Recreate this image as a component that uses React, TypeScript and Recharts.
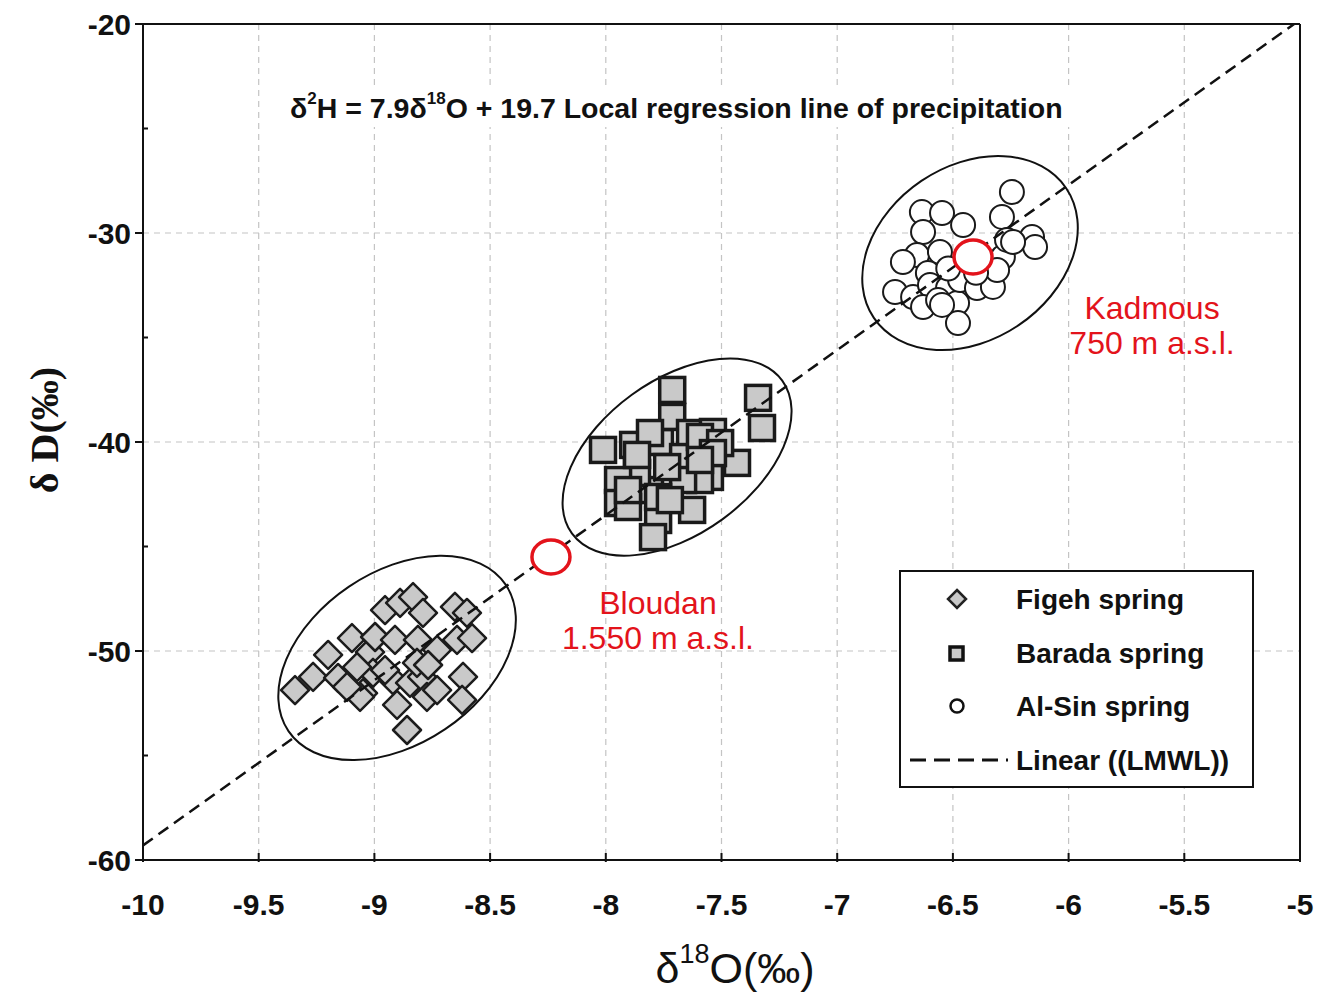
import React from 'react';
import { ScatterChart, Scatter, XAxis, YAxis, CartesianGrid, ReferenceLine, ReferenceDot } from 'recharts';

// Figeh spring (diamonds)
const figehX = [-9.343, -9.265, -9.2, -9.157, -9.097, -9.049, -9.019, -8.997, -8.954, -8.889, -8.833, -8.79, -8.911, -9.006, -8.92, -8.846, -8.794, -8.812, -8.729, -8.652, -8.6, -8.643, -8.578, -8.617, -8.621, -8.902, -8.859, -8.773, -8.729, -8.954, -9.075, -8.816, -9.062, -9.118, -8.768];
const figehY = [-51.87, -51.24, -50.19, -51.29, -49.38, -52.01, -50.05, -49.33, -48.04, -47.7, -47.42, -48.18, -49.47, -51.05, -51.39, -51.53, -51.24, -49.47, -49.95, -47.89, -48.18, -49.47, -49.38, -51.24, -52.34, -52.58, -53.78, -52.2, -51.87, -50.91, -50.77, -50.57, -52.2, -51.72, -50.67];

// Barada spring (squares)
const baradaX = [-8.012, -7.882, -7.766, -7.713, -7.713, -7.636, -7.537, -7.342, -7.325, -7.433, -7.55, -7.666, -7.593, -7.666, -7.809, -7.865, -7.947, -7.947, -7.904, -7.774, -7.796, -7.627, -7.735, -7.774, -7.593, -7.809, -7.506, -7.537, -7.865, -7.723, -7.904, -7.593];
const baradaY = [-40.38, -40.14, -40.0, -37.51, -38.8, -39.57, -39.52, -37.89, -39.33, -41.0, -41.67, -40.72, -41.82, -41.82, -42.3, -41.48, -41.82, -42.92, -43.11, -43.73, -44.55, -43.25, -41.2, -42.63, -39.76, -39.57, -40.05, -40.53, -40.62, -42.78, -42.3, -40.86];

// Al-Sin spring (circles)
const alsinX = [-6.245, -6.634, -6.547, -6.456, -6.288, -6.158, -6.145, -6.629, -6.655, -6.716, -6.556, -6.284, -6.266, -6.608, -6.75, -6.672, -6.599, -6.521, -6.482, -6.469, -6.396, -6.327, -6.309, -6.478, -6.629, -6.564, -6.24, -6.547, -6.4, -6.52];
const alsinY = [-28.04, -29.0, -29.04, -29.62, -29.23, -30.19, -30.67, -29.95, -31.05, -31.39, -30.91, -31.15, -30.33, -31.91, -32.82, -33.06, -32.49, -32.63, -33.35, -32.25, -32.63, -32.58, -31.77, -34.31, -33.54, -33.21, -30.43, -33.44, -31.9, -31.7];

// LMWL: d2H = 7.9 d18O + 19.7
const lmwlX = [-10, -5];
const lmwlY = [-59.3, -19.8];

// cluster ellipse centres
const clusterX = [-8.902, -7.692, -6.426];
const clusterY = [-50.33, -40.72, -30.96];

// precipitation stations
const stationNames = ['Bloudan', 'Kadmous'];
const stationAlt = ['1.550 m a.s.l.', '750 m a.s.l.'];
const stationX = [-8.237, -6.413];
const stationY = [-45.5, -31.15];

const xTicks = [-10, -9.5, -9, -8.5, -8, -7.5, -7, -6.5, -6, -5.5, -5];
const yTicks = [-60, -55, -50, -45, -40, -35, -30, -25, -20];
const yMajor = [-60, -50, -40, -30, -20];

const zip = (xs: number[], ys: number[]) => xs.map((x, i) => ({ x, y: ys[i] }));
const figehData = zip(figehX, figehY);
const baradaData = zip(baradaX, baradaY);
const alsinData = zip(alsinX, alsinY);
const lmwlData = zip(lmwlX, lmwlY);
const stationData = stationX.map((x, i) => ({ x, y: stationY[i], name: stationNames[i], alt: stationAlt[i] }));

const ellipseSize = [
  { rx: 131, ry: 86, angle: -34 },
  { rx: 130, ry: 77, angle: -36 },
  { rx: 116, ry: 87, angle: -34 },
];
const labelOffset = [
  { dx: 107, dy: 46 },
  { dx: 179, dy: 51 },
];

const FONT = "'Liberation Sans', Arial, sans-serif";
const RED = '#e3131b';

const Diamond = (p: any) => {
  const { cx, cy } = p;
  const h = 14;
  return (
    <polygon
      points={`${cx},${cy - h} ${cx + h},${cy} ${cx},${cy + h} ${cx - h},${cy}`}
      fill="#c9c9c9"
      stroke="#1c1c1c"
      strokeWidth={2.5}
      strokeLinejoin="round"
    />
  );
};

const Square = (p: any) => {
  const { cx, cy } = p;
  return <rect x={cx - 12.5} y={cy - 12.5} width={25} height={25} fill="#c9c9c9" stroke="#1a1a1a" strokeWidth={3.5} />;
};

const Circle = (p: any) => {
  const { cx, cy } = p;
  return <circle cx={cx} cy={cy} r={12} fill="#fff" stroke="#1a1a1a" strokeWidth={2} />;
};

const Station = (p: any) => {
  const { cx, cy, payload } = p;
  const off = labelOffset[stationNames.indexOf(payload.name)] || labelOffset[0];
  return (
    <g>
      <ellipse cx={cx} cy={cy} rx={19} ry={17} fill="#fff" stroke={RED} strokeWidth={3.5} />
      <text x={cx + off.dx} y={cy + off.dy} textAnchor="middle" dominantBaseline="central" fill={RED} fontFamily={FONT} fontSize={32}>
        {payload.name}
      </text>
      <text x={cx + off.dx} y={cy + off.dy + 35} textAnchor="middle" dominantBaseline="central" fill={RED} fontFamily={FONT} fontSize={32}>
        {payload.alt}
      </text>
    </g>
  );
};

const clusterShape = (i: number) => (p: any) => {
  const { cx, cy } = p;
  const s = ellipseSize[i];
  return (
    <ellipse cx={cx} cy={cy} rx={s.rx} ry={s.ry} fill="none" stroke="#111" strokeWidth={2} transform={`rotate(${s.angle} ${cx} ${cy})`} />
  );
};

const YTick = (props: any) => {
  const { x, y, payload } = props;
  const v = payload.value;
  const major = v % 10 === 0;
  return (
    <g>
      {major ? (
        <line x1={x - 8} x2={x} y1={y} y2={y} stroke="#111" strokeWidth={2} />
      ) : (
        <line x1={x} x2={x + 5} y1={y} y2={y} stroke="#111" strokeWidth={2} />
      )}
      {major && (
        <text x={x - 12} y={y} textAnchor="end" dominantBaseline="central" fontFamily={FONT} fontWeight="bold" fontSize={30} fill="#111">
          {v}
        </text>
      )}
    </g>
  );
};

const XTick = (props: any) => {
  const { x, y, payload } = props;
  return (
    <g>
      <line x1={x} x2={x} y1={y - 7} y2={y + 2} stroke="#111" strokeWidth={2} />
      <text x={x} y={y + 44} textAnchor="middle" dominantBaseline="central" fontFamily={FONT} fontWeight="bold" fontSize={30} fill="#111">
        {payload.value}
      </text>
    </g>
  );
};

function Overlay() {
  const legendRows = [
    { label: 'Figeh spring', y: 599 },
    { label: 'Barada spring', y: 653 },
    { label: 'Al-Sin spring', y: 706 },
    { label: 'Linear ((LMWL))', y: 760 },
  ];
  return (
    <svg width={1322} height={992} style={{ position: 'absolute', left: 0, top: 0, pointerEvents: 'none' }}>
      {/* regression equation */}
      <rect x={283} y={89} width={792} height={38} fill="#fff" />
      <text x={290} y={108} dominantBaseline="central" fontFamily={FONT} fontWeight="bold" fontSize={28.5} fill="#111">
        δ<tspan fontSize={17} dy={-10}>2</tspan>
        <tspan dy={10}>H = 7.9δ</tspan>
        <tspan fontSize={17} dy={-10}>18</tspan>
        <tspan dy={10}>O + 19.7 Local regression line of precipitation</tspan>
      </text>

      {/* axis titles */}
      <text x={44} y={430} transform="rotate(-90 44 430)" textAnchor="middle" dominantBaseline="central" fontFamily="'Liberation Serif', 'Times New Roman', serif" fontWeight="bold" fontSize={40} fill="#111">
        δ D(‰)
      </text>
      <text x={735} y={968} textAnchor="middle" dominantBaseline="central" fontFamily={FONT} fontSize={43} fill="#111">
        δ<tspan fontSize={27} dy={-14}>18</tspan>
        <tspan dy={14}>O(‰)</tspan>
      </text>

      {/* legend */}
      <rect x={900} y={571} width={353} height={216} fill="#fff" stroke="#111" strokeWidth={2} />
      <polygon points="957,590 966,599 957,608 948,599" fill="#c9c9c9" stroke="#222" strokeWidth={2.5} />
      <rect x={950} y={647} width={13} height={13} fill="#c9c9c9" stroke="#111" strokeWidth={3.5} />
      <circle cx={957} cy={706} r={6.5} fill="#fff" stroke="#111" strokeWidth={2.5} />
      <line x1={910} x2={1008} y1={760} y2={760} stroke="#111" strokeWidth={3} strokeDasharray="16 8" />
      {legendRows.map((r) => (
        <text key={r.label} x={1016} y={r.y} dominantBaseline="central" fontFamily={FONT} fontWeight="bold" fontSize={28} fill="#111">
          {r.label}
        </text>
      ))}
    </svg>
  );
}

export default function App() {
  return (
    <div style={{ position: 'absolute', left: 0, top: 0, width: 1322, height: 992, background: '#fff' }}>
      <ScatterChart width={1322} height={992} margin={{ top: 24, right: 22, left: 73, bottom: 52 }}>
        <CartesianGrid stroke="#c4c4c4" strokeWidth={1.2} strokeDasharray="6 5" horizontalValues={yMajor} verticalValues={xTicks} />
        <XAxis
          type="number"
          dataKey="x"
          domain={[-10, -5]}
          ticks={xTicks}
          interval={0}
          height={80}
          tick={<XTick />}
          tickLine={false}
          tickSize={0}
          tickMargin={0}
          axisLine={{ stroke: '#111', strokeWidth: 2 }}
          allowDataOverflow
        />
        <YAxis
          type="number"
          dataKey="y"
          domain={[-60, -20]}
          ticks={yTicks}
          interval={0}
          width={70}
          tick={<YTick />}
          tickLine={false}
          tickSize={0}
          tickMargin={0}
          axisLine={{ stroke: '#111', strokeWidth: 2 }}
          allowDataOverflow
        />
        <ReferenceLine y={-20} stroke="#111" strokeWidth={2} />
        <ReferenceLine x={-5} stroke="#111" strokeWidth={2} />
        {clusterX.map((x, i) => (
          <ReferenceDot key={i} x={x} y={clusterY[i]} r={1} shape={clusterShape(i)} />
        ))}
        <Scatter data={figehData} shape={Diamond} isAnimationActive={false} />
        <Scatter data={baradaData} shape={Square} isAnimationActive={false} />
        <Scatter data={alsinData} shape={Circle} isAnimationActive={false} />
        <Scatter
          data={lmwlData}
          line={{ stroke: '#111', strokeWidth: 2.5, strokeDasharray: '12 7' }}
          shape={() => <g />}
          isAnimationActive={false}
        />
        <Scatter data={stationData} shape={Station} isAnimationActive={false} />
      </ScatterChart>
      <Overlay />
    </div>
  );
}
